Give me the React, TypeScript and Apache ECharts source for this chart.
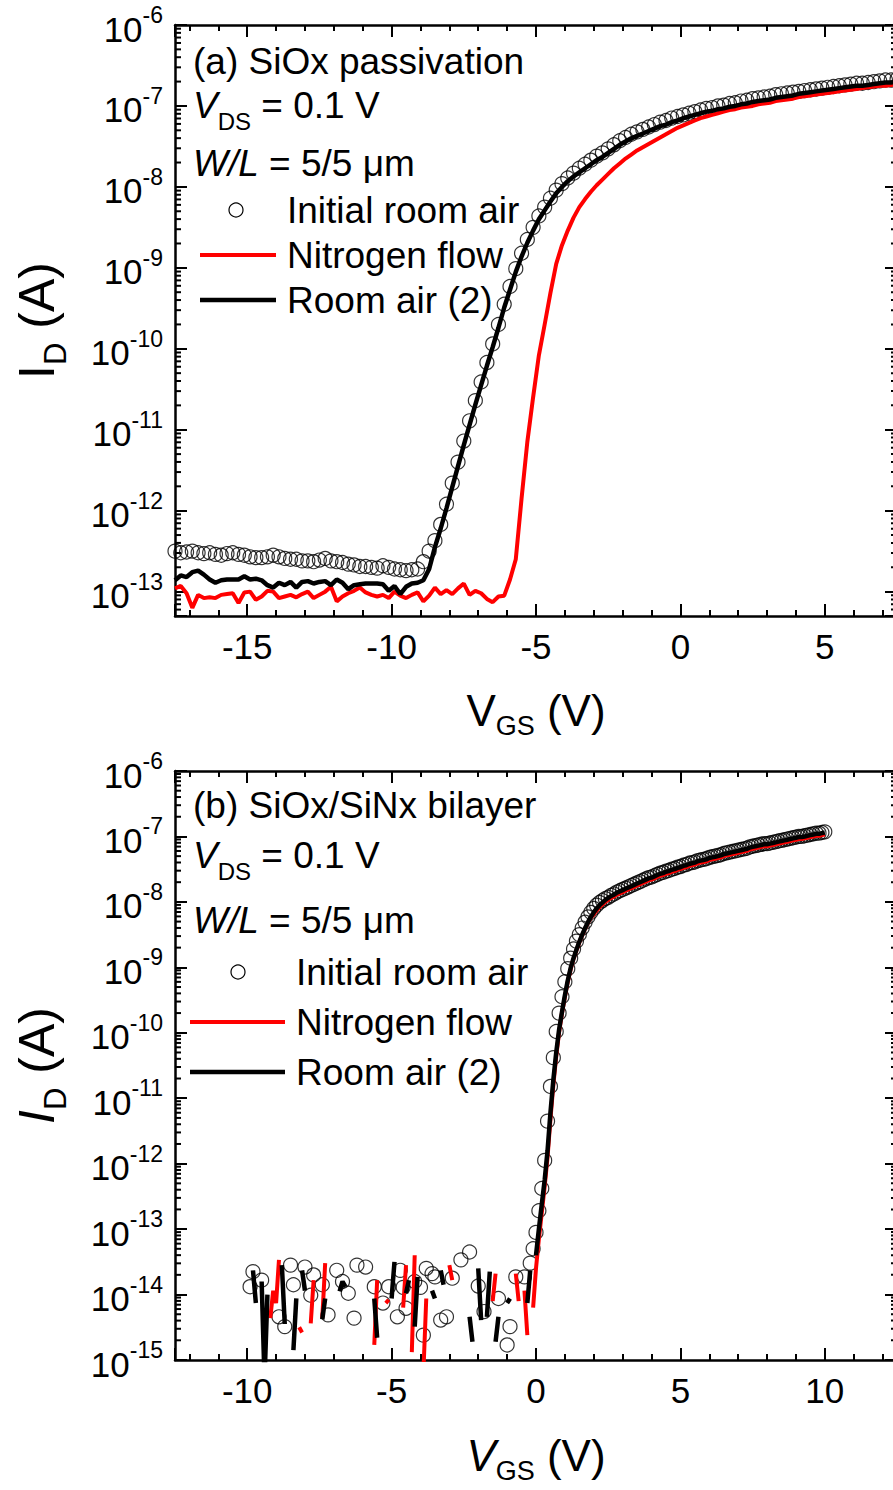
import React, { useEffect, useRef } from "react";
import * as echarts from "echarts";

const FONT = '"Liberation Sans", Arial, Helvetica, sans-serif';
const RED = "#ff0000";
const BLACK = "#000000";

// ---------------- Panel (a): SiOx passivation ----------------
// Gate sweep: first V_GS (V) and step (V)
const vgsStartA = -17.5;
const vgsStepA = 0.2;
// Drain current, stored as log10(I_D / A), one value per sweep point
const initialAirA = [
  -12.50, -12.52, -12.51, -12.50, -12.52, -12.53, -12.52, -12.54, -12.55, -12.53,
  -12.52, -12.54, -12.55, -12.57, -12.58, -12.58, -12.57, -12.55, -12.57, -12.59,
  -12.60, -12.60, -12.62, -12.62, -12.63, -12.61, -12.59, -12.62, -12.63, -12.64,
  -12.66, -12.67, -12.69, -12.69, -12.70, -12.71, -12.68, -12.70, -12.72, -12.73,
  -12.74, -12.73, -12.72, -12.63, -12.50, -12.37, -12.17, -11.92, -11.66, -11.40,
  -11.14, -10.89, -10.64, -10.41, -10.17, -9.94, -9.70, -9.45, -9.23, -9.01,
  -8.82, -8.65, -8.50, -8.36, -8.25, -8.14, -8.04, -7.96, -7.89, -7.83,
  -7.77, -7.72, -7.67, -7.62, -7.58, -7.53, -7.48, -7.43, -7.39, -7.35,
  -7.32, -7.29, -7.26, -7.23, -7.20, -7.18, -7.15, -7.13, -7.11, -7.09,
  -7.07, -7.05, -7.03, -7.02, -7.00, -6.99, -6.97, -6.96, -6.94, -6.93,
  -6.91, -6.90, -6.89, -6.88, -6.86, -6.85, -6.84, -6.83, -6.82, -6.81,
  -6.80, -6.79, -6.78, -6.77, -6.76, -6.75, -6.74, -6.73, -6.72, -6.72,
  -6.71, -6.70, -6.69, -6.68, -6.68, -6.67,
];
const nitrogenA = [
  -12.96, -12.93, -13.02, -13.20, -13.04, -13.08, -13.07, -13.08, -13.04, -13.03,
  -13.02, -13.14, -13.01, -13.00, -13.10, -13.06, -12.99, -13.00, -13.08, -13.06,
  -13.04, -13.07, -13.03, -13.00, -13.08, -13.04, -13.00, -12.94, -13.12, -13.06,
  -13.02, -12.99, -12.95, -13.01, -13.04, -13.06, -13.04, -13.08, -13.00, -13.05,
  -13.08, -13.04, -13.01, -13.12, -13.05, -12.95, -13.03, -12.98, -13.03, -12.96,
  -12.90, -13.04, -12.99, -13.02, -13.09, -13.13, -13.06, -13.05, -12.85, -12.60,
  -11.85, -11.15, -10.60, -10.08, -9.70, -9.31, -8.95, -8.72, -8.54, -8.38,
  -8.25, -8.15, -8.06, -7.98, -7.91, -7.84, -7.77, -7.71, -7.65, -7.60,
  -7.55, -7.51, -7.47, -7.43, -7.39, -7.35, -7.31, -7.27, -7.24, -7.21,
  -7.18, -7.15, -7.13, -7.11, -7.09, -7.07, -7.05, -7.04, -7.02, -7.01,
  -7.00, -6.98, -6.97, -6.96, -6.94, -6.93, -6.92, -6.91, -6.89, -6.88,
  -6.87, -6.86, -6.85, -6.84, -6.83, -6.82, -6.81, -6.80, -6.79, -6.78,
  -6.77, -6.76, -6.75, -6.75, -6.74, -6.73,
];
const roomAir2A = [
  -12.86, -12.80, -12.82, -12.76, -12.74, -12.79, -12.85, -12.89, -12.86, -12.85,
  -12.85, -12.85, -12.81, -12.85, -12.84, -12.86, -12.92, -12.95, -12.89, -12.92,
  -12.88, -12.95, -12.88, -12.87, -12.90, -12.88, -12.87, -12.92, -12.85, -12.89,
  -12.97, -12.92, -12.91, -12.90, -12.90, -12.90, -12.91, -12.99, -12.93, -13.03,
  -12.94, -12.90, -12.89, -12.86, -12.72, -12.45, -12.22, -11.97, -11.71, -11.45,
  -11.19, -10.94, -10.69, -10.45, -10.21, -9.98, -9.74, -9.49, -9.27, -9.05,
  -8.86, -8.69, -8.54, -8.40, -8.29, -8.18, -8.08, -8.00, -7.93, -7.87,
  -7.82, -7.77, -7.72, -7.67, -7.63, -7.58, -7.53, -7.48, -7.44, -7.40,
  -7.37, -7.34, -7.31, -7.28, -7.25, -7.23, -7.20, -7.18, -7.15, -7.13,
  -7.11, -7.09, -7.07, -7.06, -7.04, -7.03, -7.01, -7.00, -6.98, -6.97,
  -6.95, -6.94, -6.93, -6.92, -6.90, -6.89, -6.88, -6.87, -6.85, -6.84,
  -6.83, -6.82, -6.81, -6.80, -6.79, -6.78, -6.77, -6.76, -6.75, -6.75,
  -6.74, -6.73, -6.72, -6.71, -6.71, -6.70,
];

// ---------------- Panel (b): SiOx/SiNx bilayer ----------------
const vgsStartB = -10;
const vgsStepB = 0.1;
// null: no positive current at that point, so nothing is drawn on the log scale
const initialAirB = [
  null, -13.88, -13.65, null, null, -13.78, null, null, null, null,
  null, -14.34, null, -14.49, null, -13.55, -13.85, null, null, null,
  -13.58, null, -14.01, -13.70, null, null, -13.85, null, -14.31, null,
  null, -13.63, null, -13.80, null, -13.98, null, -14.36, -13.55, null,
  null, -13.58, null, null, -13.88, null, null, -14.13, null, -13.88,
  null, null, -14.34, -13.63, -13.89, -14.21, null, null, -13.80, null,
  -13.89, -14.62, -13.60, null, -13.68, -13.73, null, -14.39, null, -14.34,
  null, -13.75, null, null, -13.47, null, null, -13.35, null, null,
  -13.87, null, -14.26, null, null, null, null, -14.06, null, null,
  -14.77, -14.49, null, -13.73, null, null, -13.73, null, -13.52, -13.30,
  -13.05, -12.72, -12.38, -11.95, -11.35, -10.82, -10.38, -9.98, -9.70, -9.45,
  -9.22, -9.02, -8.86, -8.72, -8.60, -8.50, -8.40, -8.31, -8.23, -8.16,
  -8.10, -8.05, -8.01, -7.98, -7.95, -7.93, -7.90, -7.88, -7.85, -7.83,
  -7.81, -7.79, -7.77, -7.75, -7.73, -7.71, -7.69, -7.67, -7.65, -7.63,
  -7.62, -7.60, -7.58, -7.56, -7.55, -7.53, -7.52, -7.50, -7.49, -7.47,
  -7.46, -7.44, -7.43, -7.41, -7.40, -7.39, -7.37, -7.36, -7.35, -7.34,
  -7.32, -7.31, -7.30, -7.29, -7.28, -7.26, -7.25, -7.24, -7.23, -7.22,
  -7.21, -7.20, -7.19, -7.18, -7.16, -7.15, -7.14, -7.13, -7.12, -7.11,
  -7.11, -7.10, -7.09, -7.08, -7.07, -7.06, -7.05, -7.04, -7.03, -7.02,
  -7.01, -7.00, -7.00, -6.99, -6.98, -6.97, -6.96, -6.95, -6.95, -6.94,
  -6.93,
];
const nitrogenB = [
  null, null, null, null, null, null, null, null, -14.36, -13.94,
  -14.13, -13.47, null, null, null, null, null, null, -14.50, -14.58,
  null, null, -14.44, -13.78, null, null, -14.36, -13.52, null, null,
  null, null, null, null, null, null, null, null, null, null,
  null, null, null, null, -14.77, -13.78, null, null, -14.13, -14.08,
  null, null, null, null, -14.20, -13.55, null, -14.88, -13.40, null,
  null, -15.20, -14.06, null, null, null, null, null, null, null,
  -13.55, -13.78, null, null, null, null, null, null, null, null,
  null, null, null, null, null, -14.10, -13.68, null, null, null,
  null, null, null, -13.68, -14.10, null, -13.94, -14.62, null, -14.20,
  -13.60, -13.15, -12.75, -12.35, -11.90, -11.32, -10.80, -10.36, -9.99, -9.70,
  -9.45, -9.22, -9.03, -8.87, -8.74, -8.62, -8.51, -8.41, -8.32, -8.24,
  -8.19, -8.13, -8.08, -8.04, -8.00, -7.97, -7.94, -7.92, -7.89, -7.87,
  -7.85, -7.83, -7.81, -7.79, -7.77, -7.75, -7.73, -7.71, -7.69, -7.67,
  -7.66, -7.64, -7.62, -7.60, -7.59, -7.57, -7.56, -7.54, -7.53, -7.51,
  -7.50, -7.48, -7.47, -7.45, -7.44, -7.43, -7.41, -7.40, -7.39, -7.38,
  -7.36, -7.35, -7.34, -7.33, -7.32, -7.30, -7.29, -7.28, -7.27, -7.26,
  -7.25, -7.24, -7.23, -7.22, -7.20, -7.19, -7.18, -7.17, -7.16, -7.15,
  -7.15, -7.14, -7.13, -7.12, -7.11, -7.10, -7.09, -7.08, -7.07, -7.06,
  -7.05, -7.04, -7.04, -7.03, -7.02, -7.01, -7.00, -6.99, -6.99, -6.98,
  -6.97,
];
const roomAir2B = [
  null, null, -13.63, -14.13, null, -13.80, -15.30, -14.00, null, null,
  null, null, -13.55, -14.45, null, null, -14.85, -14.06, null, -13.63,
  -13.94, null, null, null, null, null, -14.38, -14.06, null, null,
  null, null, -13.95, -13.80, -13.88, null, null, null, null, null,
  null, null, null, null, -14.06, -14.66, null, null, null, null,
  -14.06, -13.50, null, null, null, -13.98, -13.78, null, -14.49, -13.73,
  null, null, null, null, -13.94, -14.06, null, -13.63, -13.85, null,
  null, null, null, null, null, null, null, -14.34, -14.72, null,
  -13.60, -14.39, null, -14.34, -13.65, null, -14.72, -14.34, null, null,
  -14.13, -14.06, null, null, null, null, null, -14.13, -13.63, null,
  -13.40, -13.00, -12.62, -12.25, -11.80, -11.22, -10.72, -10.30, -9.95, -9.68,
  -9.43, -9.20, -9.01, -8.86, -8.73, -8.61, -8.50, -8.40, -8.31, -8.23,
  -8.16, -8.10, -8.05, -8.01, -7.97, -7.94, -7.91, -7.89, -7.86, -7.84,
  -7.82, -7.80, -7.78, -7.76, -7.74, -7.72, -7.70, -7.68, -7.66, -7.64,
  -7.63, -7.61, -7.59, -7.57, -7.56, -7.54, -7.53, -7.51, -7.50, -7.48,
  -7.47, -7.45, -7.44, -7.42, -7.41, -7.40, -7.38, -7.37, -7.36, -7.35,
  -7.33, -7.32, -7.31, -7.30, -7.29, -7.27, -7.26, -7.25, -7.24, -7.23,
  -7.22, -7.21, -7.20, -7.19, -7.17, -7.16, -7.15, -7.14, -7.13, -7.12,
  -7.12, -7.11, -7.10, -7.09, -7.08, -7.07, -7.06, -7.05, -7.04, -7.03,
  -7.02, -7.01, -7.01, -7.00, -6.99, -6.98, -6.97, -6.96, -6.96, -6.95,
  -6.94,
];

// Axis ranges
const xRangeA = [-17.5, 7.5];
const xRangeB = [-12.5, 12.5];
const yRangeA = [5e-14, 1e-6];
const yRangeB = [1e-15, 1e-6];
const xMajorStep = 5;
const seriesNames = ["Initial room air", "Nitrogen flow", "Room air (2)"];

// Layout (px)
const GRID_LEFT = 175;
const GRID_WIDTH = 722;
const GRID_A = { top: 25, height: 591 };
const GRID_B = { top: 771, height: 589 };

type Pt = [number, number | null];

function toPoints(start: number, step: number, logs: (number | null)[]): Pt[] {
  return logs.map((l, i) => [
    Number((start + step * i).toFixed(2)),
    l === null ? null : Math.pow(10, l),
  ]);
}

// Minor tick values (2..9 x 10^n) strictly inside a log range
function logMinorTicks(lo: number, hi: number): number[] {
  const out: number[] = [];
  for (let e = Math.floor(Math.log10(lo)); e < Math.ceil(Math.log10(hi)); e++) {
    for (let m = 2; m <= 9; m++) {
      const v = m * Math.pow(10, e);
      if (v > lo * 1.0001 && v < hi * 0.9999) out.push(v);
    }
  }
  return out;
}

const decadeLabel = (v: number) => {
  const e = Math.log10(v);
  const r = Math.round(e);
  if (Math.abs(e - r) > 1e-3) return "";
  return `{b|10}{s|${r}}`;
};

const decadeRich = {
  b: { fontSize: 35, fontFamily: FONT, color: BLACK, verticalAlign: "top", padding: [8, 0, 0, 0] },
  s: { fontSize: 23, fontFamily: FONT, color: BLACK, verticalAlign: "top" },
};

const axisLine = { show: true, onZero: false, lineStyle: { color: BLACK, width: 2.5 } };
const majorTick = { show: true, inside: true, length: 12, lineStyle: { color: BLACK, width: 2 } };
const minorTick = { show: true, splitNumber: 5, length: 6, lineStyle: { color: BLACK, width: 2 } };

function titleRich(size: number) {
  return {
    n: { fontSize: size, fontFamily: FONT, color: BLACK, verticalAlign: "top" },
    i: { fontSize: size, fontFamily: FONT, fontStyle: "italic", color: BLACK, verticalAlign: "top" },
    s: {
      fontSize: Math.round(size * 0.62),
      fontFamily: FONT,
      color: BLACK,
      verticalAlign: "top",
      padding: [Math.round(size * 0.55), 0, 0, 0],
    },
  };
}

function xAxes(gridIndex: number, range: number[], name: string) {
  const common = {
    type: "value",
    gridIndex,
    min: range[0],
    max: range[1],
    splitNumber: 5,
    axisLine,
    axisTick: majorTick,
    minorTick,
    splitLine: { show: false },
    minorSplitLine: { show: false },
  };
  return [
    {
      ...common,
      position: "bottom",
      axisLabel: {
        show: true,
        fontSize: 35,
        fontFamily: FONT,
        color: BLACK,
        margin: 13,
        formatter: (v: number) =>
          Math.abs(v / xMajorStep - Math.round(v / xMajorStep)) < 1e-6 ? String(Math.round(v)) : "",
      },
      name,
      nameLocation: "middle",
      nameGap: gridIndex === 0 ? 72 : 73,
      nameMoveOverlap: false,
      nameTextStyle: { rich: titleRich(44) },
    },
    { ...common, position: "top", axisLabel: { show: false } },
  ];
}

function yAxes(gridIndex: number, range: number[], name: string) {
  const common = {
    type: "log",
    logBase: 10,
    gridIndex,
    min: range[0],
    max: range[1],
    axisLine,
    axisTick: majorTick,
    splitLine: { show: false },
    minorTick: { show: false },
  };
  return [
    {
      ...common,
      position: "left",
      axisLabel: { show: true, margin: 12, formatter: decadeLabel, rich: decadeRich },
      name,
      nameLocation: "middle",
      nameRotate: 90,
      nameGap: 104,
      nameMoveOverlap: false,
      nameTextStyle: { rich: titleRich(50) },
    },
    { ...common, position: "right", axisLabel: { show: false } },
  ];
}

function panelSeries(
  axisIndex: number,
  start: number,
  step: number,
  circles: (number | null)[],
  red: (number | null)[],
  black: (number | null)[],
  yRange: number[],
  xMin: number
) {
  return [
    {
      name: seriesNames[0],
      type: "scatter",
      xAxisIndex: axisIndex,
      yAxisIndex: axisIndex,
      data: toPoints(start, step, circles).filter((p) => p[1] !== null),
      symbol: "circle",
      symbolSize: 14,
      itemStyle: { color: "rgba(0,0,0,0)", borderColor: BLACK, borderWidth: 1.2 },
      z: 2,
    },
    {
      name: seriesNames[1],
      type: "line",
      xAxisIndex: axisIndex,
      yAxisIndex: axisIndex,
      data: toPoints(start, step, red),
      showSymbol: false,
      symbol: "none",
      connectNulls: false,
      lineStyle: { color: RED, width: 4 },
      itemStyle: { color: RED },
      z: 3,
    },
    {
      name: seriesNames[2],
      type: "line",
      xAxisIndex: axisIndex,
      yAxisIndex: axisIndex,
      data: toPoints(start, step, black),
      showSymbol: false,
      symbol: "none",
      connectNulls: false,
      lineStyle: { color: BLACK, width: 4.5 },
      itemStyle: { color: BLACK },
      z: 4,
    },
    {
      // logarithmic minor ticks on the left and right frame edges
      type: "custom",
      xAxisIndex: axisIndex,
      yAxisIndex: axisIndex,
      silent: true,
      z: 5,
      data: logMinorTicks(yRange[0], yRange[1]).map((v) => [xMin, v]),
      renderItem: (params: any, api: any) => {
        const p = api.coord([api.value(0), api.value(1)]);
        const cs = params.coordSys;
        const style = { stroke: BLACK, lineWidth: 2 };
        return {
          type: "group",
          children: [
            { type: "line", shape: { x1: cs.x, y1: p[1], x2: cs.x + 6, y2: p[1] }, style },
            { type: "line", shape: { x1: cs.x + cs.width - 6, y1: p[1], x2: cs.x + cs.width, y2: p[1] }, style },
          ],
        };
      },
    },
  ];
}

const annRich = {
  n: { fontSize: 37, fontFamily: FONT, color: BLACK, verticalAlign: "top" },
  i: { fontSize: 37, fontFamily: FONT, fontStyle: "italic", color: BLACK, verticalAlign: "top" },
  s: { fontSize: 24, fontFamily: FONT, color: BLACK, verticalAlign: "top", padding: [23, 0, 0, 0] },
};

function plainText(x: number, y: number, text: string) {
  return {
    type: "text",
    x,
    y,
    style: { text, fontSize: 37, fontFamily: FONT, fill: BLACK, align: "left", verticalAlign: "middle" },
  };
}

function richText(x: number, yTop: number, text: string) {
  return {
    type: "text",
    x,
    y: yTop,
    style: { text, rich: annRich, fontSize: 37, fontFamily: FONT, fill: BLACK, align: "left", verticalAlign: "top" },
  };
}

function panelNotes(
  title: string,
  x: number,
  yTitle: number,
  yVds: number,
  yWl: number,
  legendY: number[],
  lineX: number[],
  circleX: number,
  textX: number
) {
  return [
    plainText(x, yTitle, title),
    richText(x, yVds - 18.5, "{i|V}{s|DS}{n| = 0.1 V}"),
    richText(x, yWl - 18.5, "{i|W/L}{n| = 5/5 \u03bcm}"),
    {
      type: "circle",
      shape: { cx: circleX, cy: legendY[0], r: 7 },
      style: { fill: "none", stroke: BLACK, lineWidth: 1.2 },
    },
    plainText(textX, legendY[0], seriesNames[0]),
    {
      type: "line",
      shape: { x1: lineX[0], y1: legendY[1], x2: lineX[1], y2: legendY[1] },
      style: { stroke: RED, lineWidth: 4 },
    },
    plainText(textX, legendY[1], seriesNames[1]),
    {
      type: "line",
      shape: { x1: lineX[0], y1: legendY[2], x2: lineX[1], y2: legendY[2] },
      style: { stroke: BLACK, lineWidth: 4.5 },
    },
    plainText(textX, legendY[2], seriesNames[2]),
  ];
}

export default function App() {
  const ref = useRef<HTMLDivElement>(null);

  useEffect(() => {
    if (!ref.current) return;
    const chart = echarts.init(ref.current, null, { renderer: "svg" });

    const option: any = {
      animation: false,
      backgroundColor: "#ffffff",
      textStyle: { fontFamily: FONT },
      grid: [
        { left: GRID_LEFT, top: GRID_A.top, width: GRID_WIDTH, height: GRID_A.height, containLabel: false, outerBoundsMode: "none" },
        { left: GRID_LEFT, top: GRID_B.top, width: GRID_WIDTH, height: GRID_B.height, containLabel: false, outerBoundsMode: "none" },
      ],
      xAxis: [
        ...xAxes(0, xRangeA, "{n|V}{s|GS}{n| (V)}"),
        ...xAxes(1, xRangeB, "{i|V}{s|GS}{n| (V)}"),
      ],
      yAxis: [
        ...yAxes(0, yRangeA, "{n|I}{s|D}{n| (A)}"),
        ...yAxes(1, yRangeB, "{i|I}{s|D}{n| (A)}"),
      ],
      series: [
        ...panelSeries(0, vgsStartA, vgsStepA, initialAirA, nitrogenA, roomAir2A, yRangeA, xRangeA[0]),
        ...panelSeries(2, vgsStartB, vgsStepB, initialAirB, nitrogenB, roomAir2B, yRangeB, xRangeB[0]),
      ],
      graphic: {
        elements: [
          ...panelNotes("(a) SiOx passivation", 193, 61, 105, 163, [210, 255, 300], [200, 276], 236, 287),
          ...panelNotes("(b) SiOx/SiNx bilayer", 193, 805, 855, 920, [972, 1022, 1072], [190, 285], 238, 296),
        ],
      },
    };

    chart.setOption(option);
    return () => chart.dispose();
  }, []);

  return (
    <div
      ref={ref}
      style={{ position: "absolute", left: 0, top: 0, width: "893px", height: "1490px" }}
    />
  );
}
